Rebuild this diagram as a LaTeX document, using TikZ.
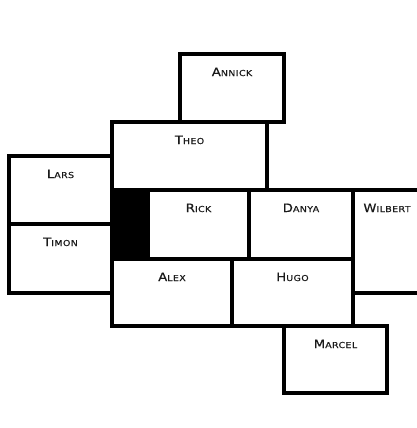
\documentclass[tikz,border=0pt]{standalone}
\usepackage{fontspec}
\setmainfont{DejaVu Sans}
\newfontfamily\roomfont[FakeStretch=1.15,LetterSpace=5,FakeBold=0.6]{DejaVu Sans}
\usepackage{tikz}
\usetikzlibrary{positioning}
\definecolor{inkgrey}{HTML}{1A1A1A}
\newcommand{\roomname}[2]{{\roomfont\fontsize{11.5}{12}\selectfont #1}{\roomfont\fontsize{8.2}{9}\selectfont #2}}

\begin{document}
\begin{tikzpicture}[x=1pt,y=-1pt,
    room/.style={draw,line width=3.4pt,anchor=north west,inner sep=0pt,outer sep=0pt},
    roomlabel/.style={anchor=base,inner sep=0pt,color=inkgrey}]
  \useasboundingbox (0,0) rectangle (416,428);
  % Rooms, top row first
  \node[room,minimum width=104,minimum height=68] (annick) at (180,54) {};
  \node[room,minimum width=155,minimum height=68] (theo) at (112,122) {};
  \node[room,minimum width=103,minimum height=68] (lars) at (9,156) {};
  \node[room,minimum width=103,minimum height=69] (timon) at (9,224) {};
  \node[room,fill=black,minimum width=36,minimum height=69] (stair) at (112,190) {};
  \node[room,minimum width=101,minimum height=69] (rick) at (148,190) {};
  \node[room,minimum width=104,minimum height=69] (danya) at (249,190) {};
  \node[room,minimum width=68,minimum height=103] (wilbert) at (353,190) {};
  \node[room,minimum width=120,minimum height=67] (alex) at (112,259) {};
  \node[room,minimum width=121,minimum height=67] (hugo) at (232,259) {};
  \node[room,minimum width=103,minimum height=67] (marcel) at (284,326) {};
  % Names near the top of each room
  \node[roomlabel] (annicklbl) at ([yshift=-22pt]annick.north) {\roomname{A}{NNICK}};
  \node[roomlabel] (theolbl) at ([yshift=-22pt]theo.north) {\roomname{T}{HEO}};
  \node[roomlabel] (larslbl) at ([yshift=-22pt]lars.north) {\roomname{L}{ARS}};
  \node[roomlabel] (timonlbl) at ([yshift=-22pt]timon.north) {\roomname{T}{IMON}};
  \node[roomlabel] (ricklbl) at ([yshift=-22pt]rick.north) {\roomname{R}{ICK}};
  \node[roomlabel] (danyalbl) at ([yshift=-22pt]danya.north) {\roomname{D}{ANYA}};
  \node[roomlabel] (wilbertlbl) at ([yshift=-22pt]wilbert.north) {\roomname{W}{ILBERT}};
  \node[roomlabel] (alexlbl) at ([yshift=-22pt]alex.north) {\roomname{A}{LEX}};
  \node[roomlabel] (hugolbl) at ([yshift=-22pt]hugo.north) {\roomname{H}{UGO}};
  \node[roomlabel] (marcellbl) at ([yshift=-22pt]marcel.north) {\roomname{M}{ARCEL}};
\end{tikzpicture}
\end{document}
